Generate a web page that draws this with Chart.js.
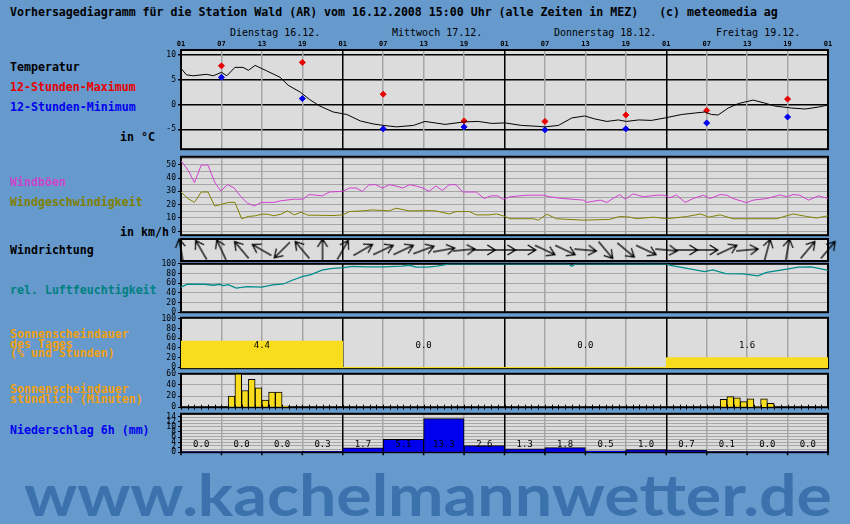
<!DOCTYPE html>
<html lang="de">
<head>
<meta charset="UTF-8">
<title>Vorhersagediagramm Wald (AR)</title>
<script src="https://cdn.jsdelivr.net/npm/chart.js"></script>
<style>
  body { margin: 0; width: 850px; height: 524px; background: #6699cc; position: relative; overflow: hidden;
         font-family: "DejaVu Sans Mono", monospace; }
  canvas { position: absolute; left: 140px; }
  .t { position: absolute; white-space: pre; font-weight: bold; font-size: 11.6px; line-height: 12px; }
  .day { position: absolute; white-space: pre; font-size: 10px; line-height: 12px; top: 27px; }
  .sun { line-height: 9.7px; color: #f0a010; }
  #wm { position: absolute; left: 24px; top: 466px; font-family: Lato, sans-serif; font-weight: bold;
        font-size: 57px; line-height: 57px; color: #3b72ad; white-space: pre; transform-origin: left top; }
</style>
</head>
<body>
<div class="t" style="left:10px;top:6px">Vorhersagediagramm für die Station Wald (AR) vom 16.12.2008 15:00 Uhr (alle Zeiten in MEZ)   (c) meteomedia ag</div>
<div class="day" style="left:230px">Dienstag 16.12.</div>
<div class="day" style="left:392px">Mittwoch 17.12.</div>
<div class="day" style="left:554px">Donnerstag 18.12.</div>
<div class="day" style="left:716px">Freitag 19.12.</div>

<div class="t" style="left:10px;top:61px">Temperatur</div>
<div class="t" style="left:10px;top:81px;color:#e80000">12-Stunden-Maximum</div>
<div class="t" style="left:10px;top:101px;color:#0000ee">12-Stunden-Minimum</div>
<div class="t" style="left:120px;top:131px">in °C</div>
<div class="t" style="left:10px;top:176px;color:#cc44cc">Windböen</div>
<div class="t" style="left:10px;top:196px;color:#808000">Windgeschwindigkeit</div>
<div class="t" style="left:120px;top:226px">in km/h</div>
<div class="t" style="left:10px;top:244px">Windrichtung</div>
<div class="t" style="left:10px;top:284px;color:#008080">rel. Luftfeuchtigkeit</div>
<div class="t sun" style="left:10px;top:330px">Sonnenscheindauer
des Tages
(% und Stunden)</div>
<div class="t sun" style="left:10px;top:385px">Sonnenscheindauer
stündlich (Minuten)</div>
<div class="t" style="left:10px;top:424px;color:#0000ee">Niederschlag 6h (mm)</div>

<canvas id="temp" width="700" height="120" style="top:36px"></canvas>
<canvas id="wind" width="700" height="92" style="top:150px"></canvas>
<canvas id="dir" width="700" height="34" style="top:233px"></canvas>
<canvas id="hum" width="700" height="62" style="top:257px"></canvas>
<canvas id="sunday" width="700" height="64" style="top:311px"></canvas>
<canvas id="sunhour" width="700" height="47" style="top:367px"></canvas>
<canvas id="precip" width="700" height="52" style="top:407px"></canvas>

<div id="wm">www.kachelmannwetter.de</div>

<script>
// hours since Tuesday 01:00 MEZ
const dayTicks = [0, 6, 12, 18, 24, 30, 36, 42, 48, 54, 60, 66, 72, 78, 84, 90, 96];
const hourLabels = ['01', '07', '13', '19', '01', '07', '13', '19', '01', '07', '13', '19', '01', '07', '13', '19', '01'];

// temperature (°C)
const tempHours = [0, 0.8, 1.8, 3.8, 4.8, 6, 6.8, 8, 9.2, 10, 11, 12.7, 14.7, 15.9, 17.7, 19.1, 20.6, 22.6, 24.6, 26.6,
  28.5, 30, 32, 34.5, 36.2, 39.2, 42, 44.1, 46.1, 48.1, 50.5, 53, 54, 56, 58, 59.9, 61.4, 63.2, 64.9, 66.1,
  67.9, 69.8, 71.8, 74.3, 76.3, 77.7, 78.7, 79.7, 81.2, 82.7, 84.9, 86.6, 88.1, 90.6, 92.6, 94.6, 96];
const tempValues = [7.3, 6.0, 5.8, 6.1, 5.8, 6.5, 5.8, 7.5, 7.5, 6.9, 7.9, 6.8, 5.5, 3.9, 2.5, 1.0, -0.3, -1.5, -2.0, -3.3,
  -3.9, -4.2, -4.5, -4.2, -3.4, -4.0, -3.5, -3.4, -3.8, -3.7, -4.2, -4.4, -4.5, -4.2, -2.7, -2.3, -2.9, -3.4, -3.1, -3.4,
  -3.1, -3.2, -2.7, -2.0, -1.7, -1.5, -2.0, -2.1, -0.7, 0.2, 0.9, 0.3, -0.3, -0.7, -0.9, -0.5, -0.1];
const extHours = [6, 18, 30, 42, 54, 66, 78, 90];
const maxTemps = [7.8, 8.5, 2.1, -3.3, -3.4, -2.1, -1.2, 1.1];
const minTemps = [5.5, 1.2, -4.9, -4.5, -5.1, -4.9, -3.7, -2.5];
const tempTicks = [-5, 0, 5, 10];

// wind (km/h)
const gustHours = [0, 1.1, 2, 3, 4, 5, 5.9, 6.9, 7.9, 8.9, 9.9, 10.9, 11.9, 13.8, 14.8, 16.8, 18.1, 19, 21, 22,
  24, 25, 26, 26.9, 27.9, 28.9, 29.9, 30.9, 31.9, 32.9, 33.9, 34.9, 35.9, 36.8, 37.8, 38.8, 39.8, 40.8, 41.8, 43.8,
  45, 46, 47, 47.8, 48.8, 51.3, 53.8, 54.7, 56.7, 59.7, 60.2, 62.2, 63.2, 64.1, 65.1, 65.9, 67.1, 68.6, 70.6, 71.6,
  72.6, 73.5, 74.8, 76, 77.5, 78.5, 80, 81, 81.9, 83.9, 84.9, 86.9, 88.9, 89.9, 90.8, 91.8, 93.1, 94.6, 96];
const gustValues = [53, 45.6, 36.5, 49.8, 49.8, 36.9, 30.3, 35, 32.5, 25.9, 21, 19, 21.7, 21.7, 22.9, 24.1, 24.1, 27.6, 26.6, 29.5,
  30, 32.5, 32.5, 30, 35, 35, 32.5, 35, 34, 32.5, 35, 34, 32.5, 30, 34, 30.7, 35, 35, 29.5, 29.5,
  24.6, 26.6, 26.6, 23.9, 25.9, 27.1, 27.1, 25.9, 24.6, 23.4, 21.7, 23.4, 21.7, 24.6, 27.6, 24.1, 28.1, 25.9, 27.1, 27.1,
  25.2, 27.3, 21.7, 24.6, 27.1, 24.6, 27.6, 27.1, 24.6, 21.5, 23.4, 24.6, 27.3, 25.9, 27.6, 27.1, 23.4, 26.6, 24.6];
const speedHours = [0, 1, 2, 3, 4, 5, 6, 7, 8, 9, 10, 11, 12, 12.8, 13.8, 14.8, 15.8, 16.8, 17.8, 18.8,
  22.7, 24, 25, 26.9, 28.4, 30.9, 31.9, 32.9, 33.9, 36.8, 37.8, 39.8, 40.8, 42.8, 43.8, 45.8, 46.8, 47.8, 48.8, 52.3,
  53, 54.3, 55.7, 59.7, 63.6, 65.1, 66.6, 67.6, 70.1, 72.1, 75.1, 77.1, 78.3, 80, 81.9, 88.4, 90.8, 92.8, 94.3, 96];
const speedValues = [29.5, 24.6, 21.7, 29.5, 29.5, 19, 20.2, 21.7, 21.7, 9.4, 11.1, 11.6, 12.8, 12.8, 11.6, 12.8, 15.3, 12.3, 14.3, 12.1,
  11.8, 12.3, 14.8, 15.3, 16, 15.3, 17.3, 16.3, 15.3, 15.5, 15.3, 13, 14.8, 14.8, 12.3, 12.3, 13, 11.6, 9.4, 9.4,
  8.3, 12.8, 9.4, 8.3, 8.9, 11.1, 10.6, 9.4, 10.6, 9.4, 11.1, 13, 10.6, 12.3, 9.4, 9.4, 13, 11.1, 10, 11.6];
const windTicks = [0, 5, 10, 15, 20, 25, 30, 35, 40, 45, 50, 55];

// wind direction (direction the arrow points to, degrees from north)
const dirHours = [0, 3, 6, 9, 12, 15, 18, 21, 24, 27, 30, 33, 36, 39, 42, 45, 48, 51, 54, 57, 60, 63, 66, 69, 72, 75, 78, 81, 84, 87, 90, 93, 96];
const dirDegrees = [350, 330, 335, 320, 300, 225, 320, 0, 30, 60, 65, 65, 70, 80, 85, 90, 90, 90, 115, 115, 95, 140, 130, 115, 95, 90, 90, 65, 85, 15, 10, 40, 40];

// relative humidity (%)
const humHours = [0, 0.95, 3.5, 4.8, 5.7, 6.3, 7, 8.2, 9.8, 12, 13.6, 15.2, 16.5, 18.1, 19.3, 20.9, 22.2, 24.1, 25.4, 27.6,
  30.1, 32.7, 33.9, 34.9, 36.5, 38, 39.3, 39.6, 57.4, 58, 58.6, 72.1, 72.6, 74.5, 77.7, 78.9, 80.8, 83.4, 85.6, 86.9,
  89.7, 91.6, 93.5, 95.7, 96];
const humValues = [52, 57.7, 57.7, 55.7, 57.7, 55, 57, 49.8, 53, 51.8, 56.3, 58.3, 66, 73.8, 77.7, 86.8, 90, 91.9, 94.5, 93.8,
  93.8, 95.1, 97, 93.2, 93.2, 95.1, 98.4, 100, 100, 95, 100, 100, 96.5, 91.9, 84, 87.4, 79.6, 79, 75.1, 82.2,
  88.7, 93.2, 93.8, 87.4, 86];
const humTicks = [0, 20, 40, 60, 80, 100];

// sunshine per day (% of possible, hours)
const sunDayCenters = [12, 36, 60, 84];
const sunDayPercent = [54, 0, 0, 20];
const sunDayHours = ['4.4', '0.0', '0.0', '1.6'];
const sunDayTicks = [0, 20, 40, 60, 80, 100];

// sunshine per hour (minutes), hour start
const sunHourStart = [7, 8, 9, 10, 11, 12, 13, 14, 15, 80, 81, 82, 83, 84, 85, 86, 87];
const sunHourMinutes = [20, 60, 30, 50, 35, 13, 27, 27, 2, 14, 19, 17, 10, 15, 0, 15, 7];
const sunHourTicks = [0, 20, 40, 60];

// precipitation per 6 h (mm)
const precipCenters = [3, 9, 15, 21, 27, 33, 39, 45, 51, 57, 63, 69, 75, 81, 87, 93];
const precipMm = [0.0, 0.0, 0.0, 0.3, 1.7, 5.1, 13.3, 2.6, 1.3, 1.8, 0.5, 1.0, 0.7, 0.1, 0.0, 0.0];
const precipLabelTicks = [0, 2, 4, 6, 8, 10, 12, 14];
const precipGridTicks = [1.25, 2.5, 3.75, 5, 6.25, 7.5, 8.75, 10, 11.25, 12.5, 13.75, 15];

const GRAY = '#a6a6a6';
const PANEL = '#dcdcdc';
const YELLOW = '#f8dc1e';
const tickFont = { family: 'DejaVu Sans Mono', size: 8 };
const clear = 'rgba(0,0,0,0)';

Chart.register({
  id: 'panel',
  beforeDraw(chart) {
    const a = chart.chartArea, ctx = chart.ctx;
    ctx.save();
    ctx.fillStyle = PANEL;
    ctx.fillRect(a.left, a.top, a.right - a.left, a.bottom - a.top);
    ctx.restore();
  },
  beforeDatasetsDraw(chart) {
    const a = chart.chartArea, ctx = chart.ctx;
    ctx.save();
    ctx.strokeStyle = '#000';
    ctx.lineWidth = 2;
    ctx.strokeRect(a.left, a.top, a.right - a.left, a.bottom - a.top);
    ctx.restore();
  }
});

function xAxis() {
  return {
    type: 'linear', min: 0, max: 96, offset: false,
    afterBuildTicks: a => { a.ticks = dayTicks.map(v => ({ value: v })); },
    afterFit: a => { a.height = 0; },
    ticks: { display: false },
    border: { display: false },
    grid: {
      z: -1,
      offset: false,
      drawTicks: false,
      color: c => c.tick && c.tick.value % 24 === 0 ? '#000' : GRAY,
      lineWidth: 1.5
    }
  };
}

// horizontal grid is drawn first (z -2) so the vertical day lines stay on top
function yAxis(min, max, ticks, showLabel, gridColor, tickMark) {
  return {
    min, max,
    afterBuildTicks: a => { a.ticks = ticks.map(v => ({ value: v })); },
    afterFit: a => { a.width = 41; },
    border: { display: false },
    ticks: {
      autoSkip: false, padding: 2, color: '#000', font: tickFont,
      callback: v => showLabel(v) ? String(v) : ''
    },
    grid: {
      z: -2,
      color: c => gridColor(c.tick.value),
      lineWidth: c => gridColor(c.tick.value) === '#000' ? 1.5 : 1,
      tickColor: c => tickMark(c.tick.value) ? '#000' : clear,
      tickLength: 3
    }
  };
}

function opts(y, padTop) {
  return {
    responsive: false,
    animation: false,
    events: [],
    layout: { padding: { top: padTop, bottom: 6, left: 0, right: 12 } },
    plugins: { legend: { display: false }, tooltip: { enabled: false } },
    scales: { x: xAxis(), y }
  };
}

const pts = (xs, ys) => xs.map((x, i) => ({ x, y: ys[i] }));
// bar width spanning a given number of hours on the x scale
const hoursWide = n => c => {
  const x = c.chart.scales.x;
  return x.getPixelForValue(n) - x.getPixelForValue(0);
};

// temperature
new Chart('temp', {
  type: 'line',
  data: {
    datasets: [
      { data: pts(tempHours, tempValues), borderColor: '#000', borderWidth: 1, pointRadius: 0, tension: 0 },
      { data: pts(extHours, maxTemps), showLine: false, pointStyle: 'rectRot', pointRadius: 3,
        backgroundColor: '#e80000', borderColor: '#e80000', borderWidth: 1 },
      { data: pts(extHours, minTemps), showLine: false, pointStyle: 'rectRot', pointRadius: 3,
        backgroundColor: '#0000ee', borderColor: '#0000ee', borderWidth: 1 }
    ]
  },
  options: opts(yAxis(-9, 11, tempTicks, () => true, () => '#000', () => true), 14),
  plugins: [{
    id: 'hours',
    afterDraw(chart) {
      const ctx = chart.ctx, xs = chart.scales.x;
      ctx.save();
      ctx.font = 'bold 7px "DejaVu Sans Mono"';
      ctx.fillStyle = '#000';
      ctx.textAlign = 'center';
      ctx.textBaseline = 'middle';
      dayTicks.forEach((v, i) => ctx.fillText(hourLabels[i], xs.getPixelForValue(v), chart.chartArea.top - 6));
      ctx.restore();
    }
  }]
});

// wind speed and gusts
new Chart('wind', {
  type: 'line',
  data: {
    datasets: [
      { data: pts(gustHours, gustValues), borderColor: '#d040d0', borderWidth: 1, pointRadius: 0 },
      { data: pts(speedHours, speedValues), borderColor: '#808000', borderWidth: 1, pointRadius: 0 }
    ]
  },
  options: opts(yAxis(-3, 56, windTicks, v => v % 10 === 0, () => GRAY, v => v % 10 === 0), 6)
});

// wind direction arrows
const arrow = document.createElement('canvas');
arrow.width = 26; arrow.height = 26;
(function () {
  const c = arrow.getContext('2d');
  c.strokeStyle = '#000';
  c.lineWidth = 1.3;
  c.beginPath();
  c.moveTo(13, 24); c.lineTo(13, 2);
  c.moveTo(8, 10); c.lineTo(13, 2); c.lineTo(18, 10);
  c.stroke();
})();

new Chart('dir', {
  type: 'line',
  data: {
    datasets: [{
      data: dirHours.map(h => ({ x: h, y: 0 })),
      showLine: false, pointStyle: arrow, pointRadius: 3, pointRotation: dirDegrees, clip: false
    }]
  },
  options: opts({
    min: -1, max: 1,
    afterFit: a => { a.width = 41; },
    border: { display: false },
    ticks: { display: false },
    grid: { display: false }
  }, 6)
});

// humidity
new Chart('hum', {
  type: 'line',
  data: {
    datasets: [{ data: pts(humHours, humValues), borderColor: '#008b8b', borderWidth: 1.3, pointRadius: 0 }]
  },
  options: opts(yAxis(0, 100, humTicks, () => true, () => GRAY, () => true), 6)
});

// sunshine per day
new Chart('sunday', {
  type: 'bar',
  data: {
    datasets: [{
      data: pts(sunDayCenters, sunDayPercent),
      backgroundColor: YELLOW, borderWidth: 0, barThickness: hoursWide(24), base: -2
    }]
  },
  options: opts(yAxis(-2, 102, sunDayTicks, () => true, () => clear, () => true), 6),
  plugins: [{
    id: 'daylabels',
    afterDatasetsDraw(chart) {
      const ctx = chart.ctx, xs = chart.scales.x, ys = chart.scales.y;
      ctx.save();
      ctx.font = '9px "DejaVu Sans Mono"';
      ctx.fillStyle = '#000';
      ctx.textAlign = 'center';
      ctx.textBaseline = 'middle';
      sunDayHours.forEach((t, i) => ctx.fillText(t, xs.getPixelForValue(sunDayCenters[i]), ys.getPixelForValue(45)));
      ctx.restore();
    }
  }]
});

// sunshine per hour
new Chart('sunhour', {
  type: 'bar',
  data: {
    datasets: [{
      data: sunHourStart.map((h, i) => ({ x: h + 0.5, y: sunHourMinutes[i] })),
      backgroundColor: YELLOW, borderColor: '#000',
      borderWidth: c => c.raw && c.raw.y > 0 ? 1 : 0,
      barThickness: hoursWide(1)
    }]
  },
  options: opts(yAxis(0, 60, sunHourTicks, () => true, v => v === 20 || v === 40 ? GRAY : clear, () => true), 6),
  plugins: [{
    id: 'hourticks',
    afterDatasetsDraw(chart) {
      const ctx = chart.ctx, xs = chart.scales.x, y0 = chart.scales.y.getPixelForValue(0);
      ctx.save();
      ctx.strokeStyle = '#000';
      ctx.lineWidth = 1;
      ctx.beginPath();
      for (let h = 0; h <= 96; h++) {
        const x = Math.round(xs.getPixelForValue(h)) + 0.5;
        ctx.moveTo(x, y0 - 2.5); ctx.lineTo(x, y0 + 2.5);
      }
      ctx.stroke();
      ctx.restore();
    }
  }]
});

// precipitation
const precipAllTicks = [...new Set([0, ...precipLabelTicks, ...precipGridTicks])].sort((a, b) => a - b);
new Chart('precip', {
  type: 'bar',
  data: {
    datasets: [{
      data: pts(precipCenters, precipMm),
      backgroundColor: '#0000ee', borderColor: '#000',
      borderWidth: c => c.raw && c.raw.y > 0 ? 1 : 0,
      barThickness: hoursWide(6)
    }]
  },
  options: opts(yAxis(0, 15.2, precipAllTicks,
    v => precipLabelTicks.includes(v),
    v => precipGridTicks.includes(v) ? GRAY : clear,
    v => precipLabelTicks.includes(v)), 6),
  plugins: [{
    id: 'precipLabels',
    afterDatasetsDraw(chart) {
      const ctx = chart.ctx, xs = chart.scales.x, ys = chart.scales.y, a = chart.chartArea;
      ctx.save();
      ctx.font = '9px "DejaVu Sans Mono"';
      ctx.fillStyle = '#000';
      ctx.textAlign = 'center';
      ctx.textBaseline = 'middle';
      precipMm.forEach((v, i) => ctx.fillText(v.toFixed(1), xs.getPixelForValue(precipCenters[i]), ys.getPixelForValue(3)));
      ctx.strokeStyle = '#000';
      ctx.lineWidth = 1.5;
      ctx.beginPath();
      dayTicks.forEach(v => {
        const x = xs.getPixelForValue(v);
        ctx.moveTo(x, a.bottom); ctx.lineTo(x, a.bottom + 3);
      });
      ctx.stroke();
      ctx.restore();
    }
  }]
});

// stretch the watermark to the width of the original
const wm = document.getElementById('wm');
wm.style.transform = 'scaleX(' + (808 / wm.getBoundingClientRect().width) + ')';
</script>
</body>
</html>
